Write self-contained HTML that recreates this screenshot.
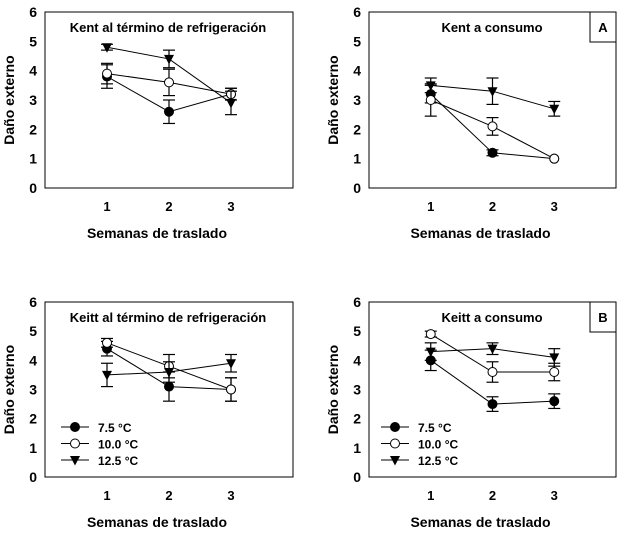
<!DOCTYPE html>
<html><head><meta charset="utf-8">
<style>
html,body{margin:0;padding:0;background:#fff;}
svg{display:block;font-family:"Liberation Sans",sans-serif;}
text{font-weight:bold;fill:#000;}
</style></head>
<body>
<svg id="fig" width="621" height="534" viewBox="0 0 621 534"></svg>
<script>
const weeks=[1,2,3];
const yTicks=[0,1,2,3,4,5,6];
const xTicks=[1,2,3];
const seriesNames=["7.5 °C","10.0 °C","12.5 °C"];
// Panel values
const kentRefVals=[[3.8,2.6,3.2],[3.9,3.6,3.2],[4.8,4.4,2.9]];
const kentRefErr=[[0.4,0.4,0.2],[0.35,0.45,0.2],[0.1,0.3,0.4]];
const kentConVals=[[3.2,1.2,1.0],[3.0,2.1,1.0],[3.5,3.3,2.7]];
const kentConErr=[[0.3,0.1,0.0],[0.55,0.3,0.0],[0.25,0.45,0.25]];
const keittRefVals=[[4.4,3.1,3.0],[4.6,3.8,3.0],[3.5,3.6,3.9]];
const keittRefErr=[[0.25,0.5,0.4],[0.15,0.4,0.4],[0.4,0.35,0.3]];
const keittConVals=[[4.0,2.5,2.6],[4.9,3.6,3.6],[4.3,4.4,4.1]];
const keittConErr=[[0.35,0.25,0.25],[0.1,0.35,0.3],[0.3,0.2,0.3]];

const NS="http://www.w3.org/2000/svg";
const svg=document.getElementById('fig');
function el(tag,attrs,parent,txt){const e=document.createElementNS(NS,tag);for(const k in attrs)e.setAttribute(k,attrs[k]);if(txt!==undefined)e.textContent=txt;(parent||svg).appendChild(e);return e;}

function marker(g,type,cx,cy,r){
  let m;
  if(type===0){m=el('circle',{cx:cx,cy:cy,r:r,fill:'#000',stroke:'#000'},g);}
  else if(type===1){m=el('circle',{cx:cx,cy:cy,r:r,fill:'#fff',stroke:'#000','stroke-width':1});}
  else {m=el('polygon',{points:`${cx-r-0.5},${cy-r+0.5} ${cx+r+0.5},${cy-r+0.5} ${cx},${cy+r+1}`,fill:'#000'},g);}
  if(type===1)g.appendChild(m);
  return m;
}

function panel(p){
  const g=el('g',{});
  
  
  const L=p.left,R=p.right,T=p.top,B=p.bottom;
  const xs=v=>L+(R-L)*v/4;
  const ys=v=>B-(B-T)*v/6;
  const frame=el('rect',{x:L,y:T,width:R-L,height:B-T,fill:'none',stroke:'#000','stroke-width':1},g);
  
  
  yTicks.forEach(t=>{
    const tl=el('text',{x:L-8,y:ys(t)+5,'text-anchor':'end','font-size':14},g,String(t));
    
    
  });
  xTicks.forEach(t=>{
    const tl=el('text',{x:xs(t),y:B+23,'text-anchor':'middle','font-size':13},g,String(t));
    
    
  });
  const yt=el('text',{x:0,y:0,'text-anchor':'middle','font-size':14,transform:`translate(${L-31},${(T+B)/2}) rotate(-90)`},g,'Daño externo');
  
  
  const xt=el('text',{x:(L+R)/2-12,y:B+50,'text-anchor':'middle','font-size':14},g,'Semanas de traslado');
  
  
  const tt=el('text',{x:p.titleX,y:T+20,'text-anchor':'middle','font-size':13},g,p.title);
  
  
  if(p.tag){
    const b=el('rect',{x:R-26,y:T,width:26,height:30,fill:'#fff',stroke:'#000'},g);
    
    
    const bt=el('text',{x:R-13,y:T+20,'text-anchor':'middle','font-size':13},g,p.tag);
    
    
  }
  p.vals.forEach((ser,si)=>{
    const sg=el('g',{},g);
    
    
    const pts=ser.map((v,i)=>xs(weeks[i])+','+ys(v)).join(' ');
    el('polyline',{points:pts,fill:'none',stroke:'#000','stroke-width':1},sg);
    ser.forEach((v,i)=>{
      const e=p.err[si][i];const x=xs(weeks[i]);
      if(e>0){
        el('line',{x1:x,x2:x,y1:ys(v+e),y2:ys(v-e),stroke:'#000','stroke-width':1.2},sg);
        el('line',{x1:x-6,x2:x+6,y1:ys(v+e),y2:ys(v+e),stroke:'#000','stroke-width':1.2},sg);
        el('line',{x1:x-6,x2:x+6,y1:ys(v-e),y2:ys(v-e),stroke:'#000','stroke-width':1.2},sg);
      }
    });
    ser.forEach((v,i)=>{
      const m=marker(sg,si,xs(weeks[i]),ys(v),4.5);
      
      
    });
  });
  if(p.legend){
    const lg=el('g',{},g);
    
    
    seriesNames.forEach((n,i)=>{
      const y=p.legend.y+i*16.5;
      const x0=p.legend.x;
      const e=el('g',{},lg);
      
      
      el('line',{x1:x0,x2:x0+28,y1:y,y2:y,stroke:'#000'},e);
      marker(e,i,x0+14,y,4.5);
      el('text',{x:x0+37,y:y+5,'font-size':12},e,n);
    });
  }
}

panel({name:'panel-kent-refrigeracion',left:45,right:293,top:12,bottom:188,title:'Kent al término de refrigeración',titleX:168,vals:kentRefVals,err:kentRefErr});
panel({name:'panel-kent-consumo',left:369,right:616,top:12,bottom:188,title:'Kent a consumo',titleX:492,tag:'A',vals:kentConVals,err:kentConErr});
panel({name:'panel-keitt-refrigeracion',left:45,right:293,top:302,bottom:477,title:'Keitt al término de refrigeración',titleX:168,vals:keittRefVals,err:keittRefErr,legend:{x:61,y:427}});
panel({name:'panel-keitt-consumo',left:369,right:616,top:302,bottom:477,title:'Keitt a consumo',titleX:492,tag:'B',vals:keittConVals,err:keittConErr,legend:{x:381,y:427}});
</script>
</body></html>
